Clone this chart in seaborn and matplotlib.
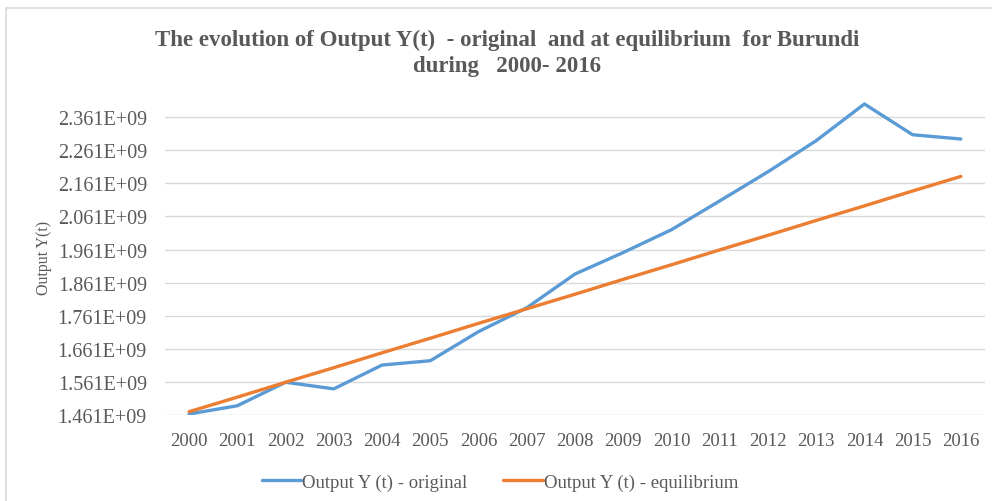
import matplotlib
matplotlib.use("Agg")
import matplotlib.pyplot as plt
import numpy as np
import pandas as pd
import seaborn as sns

years = list(range(2000, 2017))
original = [1.464, 1.489, 1.560, 1.540, 1.612, 1.625, 1.713, 1.785, 1.887, 1.952,
            2.021, 2.108, 2.196, 2.290, 2.401, 2.308, 2.295]
equilibrium = [1.471, 1.515, 1.560, 1.604, 1.649, 1.693, 1.738, 1.782, 1.826, 1.871,
               1.915, 1.960, 2.004, 2.049, 2.093, 2.138, 2.182]
ticks = [1.461, 1.561, 1.661, 1.761, 1.861, 1.961, 2.061, 2.161, 2.261, 2.361]

lab_orig = "Output Y (t) - original"
lab_eq = "Output Y (t) - equilibrium"

df = pd.DataFrame({
    "year": years * 2,
    "value": [v * 1e9 for v in original] + [v * 1e9 for v in equilibrium],
    "series": [lab_orig] * len(years) + [lab_eq] * len(years),
})

sns.set_style("white")
plt.rcParams["font.family"] = ["Liberation Serif", "DejaVu Serif"]

grey = "#595959"
fig = plt.figure(figsize=(9.92, 5.02), dpi=100)
ax = fig.add_axes([165 / 992, 86 / 502, 820 / 992, 316 / 502])

# chart border
fig.patches.append(plt.Rectangle((6 / 992, -0.05), 1.2, (502 - 9) / 502 + 0.05,
                                 transform=fig.transFigure, fill=False,
                                 edgecolor="#d9d9d9", lw=1.2, zorder=0))

sns.lineplot(data=df, x="year", y="value", hue="series",
             palette={lab_orig: "#5b9bd5", lab_eq: "#ed7d31"},
             linewidth=2.4, ax=ax, legend=True)

ax.set_xlim(1999.5, 2016.5)
ax.set_ylim(1.461e9, 2.416e9)
ax.set_xticks(years)
ax.set_xticklabels([str(y) for y in years], fontsize=13.5, color=grey)
ax.set_yticks([t * 1e9 for t in ticks])
ax.set_yticklabels([f"{t:.3f}E+09" for t in ticks], fontsize=14.5, color=grey)
ax.tick_params(axis="y", length=0, pad=13)
ax.tick_params(axis="x", length=0, pad=12)
ax.yaxis.grid(True, color="#d9d9d9", lw=1)
ax.xaxis.grid(False)
for s in ax.spines.values():
    s.set_visible(False)
ax.set_xlabel("")
ax.set_ylabel("Output Y(t)", fontsize=11.5, color=grey, labelpad=4)

fig.text(0.511, 0.893, "The evolution of Output Y(t)  - original  and at equilibrium  for Burundi\nduring   2000- 2016",
         ha="center", va="center", fontsize=16.5, fontweight="bold", color=grey,
         linespacing=1.32)

leg = ax.legend(loc="center", frameon=False,
                ncol=2, fontsize=13.5, handlelength=2.1, handletextpad=0.05,
                columnspacing=1.9)
leg.set_bbox_to_anchor((500 / 992, 19 / 502), transform=fig.transFigure)
for t in leg.get_texts():
    t.set_color(grey)
for l in leg.get_lines():
    l.set_linewidth(2.4)

fig.savefig("out.png", dpi=100)
